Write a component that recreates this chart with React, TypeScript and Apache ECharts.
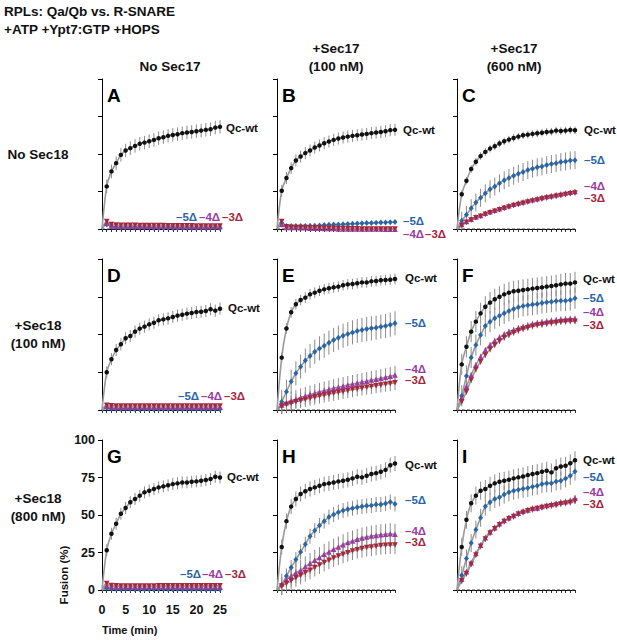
import React, { useEffect, useRef } from 'react';
import * as echarts from 'echarts';

const TIME = [1,2,3,4,5,6,7,8,9,10,11,12,13,14,15,16,17,18,19,20,21,22,23,24,25];
const Y_TICKS = [0, 25, 50, 75, 100];

// Panel A: No Sec17 / No Sec18
const wtA = [28.4,38.4,43.9,49.4,52.3,53.9,55.4,56.8,57.6,58.5,59.4,60.5,61.2,62.1,62.7,63.2,63.9,64.3,64.7,65.2,65.6,66.1,66.5,67.6,68.1];
const d5A = [3,1.5,1.2,1,1,1,1,1,1,1,0.6,0.6,0.6,0.8,0.8,0.6,0.6,0.6,0.6,0.6,0.6,0.6,0.6,0.8,0.6];
const d4A = [4,2.2,2,2,2,2,1.8,1.8,1.8,1.8,1.8,1.8,1.8,1.8,1.8,1.6,1.6,1.6,1.6,1.6,1.6,1.6,1.6,1.6,1.6];
const d3A = [5,3,2.6,2.5,2.5,2.5,2.5,2.4,2.4,2.4,2.3,2.3,2.3,2.2,2.2,2.2,2.1,2.1,2.1,2,2,2,2,2,2];
const errA = [4.5,1,1,1];

// Panel B: +Sec17 100 nM / No Sec18
const wtB = [25.5,34,40.6,45.7,48.3,50.6,52.3,54.3,55.7,57.2,58.3,59.4,60.3,61,61.6,62.1,62.5,63,63.4,63.9,64.3,64.7,65.2,65.9,66.1];
const d5B = [4,2,2,2,2,2,2.1,2.2,2.4,2.6,2.8,3,3,3.2,3.4,3.5,3.6,3.8,4,4,4.2,4.3,4.4,4.5,4.6];
const d4B = [3,1,1,1,0.8,0.8,0.5,0.5,0.5,0.3,0.3,0.3,0,0,0,0,0,0,0,0,0,0,-0.2,-0.2,-0.2];
const d3B = [5,1.5,1.2,1,1,1,0.8,0.8,0.8,0.5,0.5,0.5,0.3,0.3,0.3,0.2,0.2,0,0,0,0,0,0,0,0];
const errB = [4,0.8,0.8,0.8];

// Panel C: +Sec17 600 nM / No Sec18
const wtC = [23.2,32.2,40,44.8,48.6,51.4,53.6,55.2,57,58.5,59.6,60.7,61.6,62.5,62.9,63.4,63.8,64.2,64.7,64.9,65.6,65.3,65.6,66,65.8];
const d5C = [5.5,9.5,13.9,17.7,20.8,23.8,26.5,28.3,30.5,32.5,34,35.5,36.9,38,39.3,40.2,41.1,41.7,42.6,43.3,43.9,44.6,45,45.7,45.9];
const d4C = [3,5,6.5,8,9,10.5,11.5,12.5,13.5,14.5,15.5,16.5,17.3,18,18.8,19.5,20.2,21,21.6,22.2,22.8,23.4,24,24.5,25];
const d3C = [2.5,4.5,6,7.5,8.5,9.8,10.8,11.8,12.8,13.8,14.7,15.6,16.4,17.2,18,18.7,19.4,20,20.6,21.2,21.8,22.4,23,23.5,24];
const errC = [2.5,6,1.5,1.5];

// Panel D: No Sec17 / +Sec18 100 nM
const wtD = [25,33.6,39.7,43.5,47.5,49,51.9,53.9,55.2,56.7,57.8,59.4,60,60.7,61.6,62.5,63.1,63.8,64.2,64.9,65.1,65.6,66.7,65.8,67.1];
const d5D = [1.5,1,0.8,0.8,0.8,0.8,0.6,0.6,0.6,0.6,0.6,0.6,0.6,0.6,0.6,0.6,0.6,0.8,0.8,0.6,0.6,0.6,0.6,0.6,0.6];
const d4D = [2.5,2.2,2,2,2,2,2,2,2,2,2,2,2,2,2,2,2,2,2,2,2,2,2,2,2];
const d3D = [3.2,2.8,2.7,2.7,2.7,2.6,2.7,2.6,2.6,2.6,2.6,2.6,2.6,2.6,2.6,2.6,2.6,2.6,2.6,2.6,2.6,2.6,2.6,2.6,2.6];
const errD = [4,0.8,0.8,0.8];

// Panel E: +Sec17 100 nM / +Sec18 100 nM
const wtE = [34.7,54,64.7,70,72.8,74.4,76.6,77.7,79,79.9,80.6,81.2,81.7,82.6,83.2,83.4,83.9,84.5,84.5,85.2,85.4,85.9,86.1,86.3,86.8];
const d5E = [5.5,12.1,18.8,24.3,28.7,32.7,35.8,38.6,40.8,42.6,44.6,46.4,47.9,49.2,50.3,51.4,52.3,53,53.6,54.1,54.5,55.2,55.6,56.5,57.4];
const d4E = [3.3,4.8,6,7.2,8.3,9.3,10.2,11.1,12,12.8,13.6,14.4,15.1,15.8,16.5,17.2,17.9,18.5,19.1,19.8,20.4,21,21.7,22.4,23.2];
const d3E = [2.6,3.6,4.5,5.4,6.2,7,7.8,8.5,9.2,9.9,10.5,11.1,11.7,12.3,12.9,13.5,14.1,14.6,15.1,15.6,16.1,16.6,17.1,17.6,18.1];
const errE = [3.5,8,6,5];

// Panel F: +Sec17 600 nM / +Sec18 100 nM
const wtF = [30.2,41.9,51.9,58.5,64,68.4,71.1,73.3,75,76.6,77.7,78.6,79,79.5,79.9,80.4,80.8,81.2,81.7,82.1,82.6,83.2,83.7,83.7,84.5];
const d5F = [9.5,22.5,34.7,43,49.7,55.6,58.5,60.7,62.5,64,65.6,66.9,68,68.9,69.3,69.8,70.2,70.9,71.3,71.7,72.2,72.4,72.4,72.8,74];
const d4F = [8.2,15.5,23.2,29.8,35.3,39.7,43,45.9,48.1,50.1,51.9,53,54.3,55.2,56.1,57,57.6,58.3,58.7,59.2,59.6,60,60.3,60.5,60.5];
const d3F = [5.5,12.1,19.9,26.9,32,36.4,40.2,43,45.7,47.9,49.7,51.2,52.5,53.6,54.5,55.4,56.1,56.5,57,57.4,57.8,58.3,58.5,58.7,58.7];
const errF = [7,7,2,2];

// Panel G: No Sec17 / +Sec18 800 nM
const wtG = [26.5,37.5,44.2,50.8,54.7,58.5,60.7,62.9,65.1,66.2,67.3,68.4,69.1,69.8,70.6,71.1,71.7,71.7,72.2,72.4,72.8,73.3,74,75.5,75];
const d5G = [1.2,0.8,0.6,0.6,0.6,0.6,0.5,0.5,0.5,0.5,0.5,0.5,0.5,0.5,0.5,0.5,0.5,0.5,0.5,0.5,0.5,0.5,0.5,0.5,0.5];
const d4G = [3,2.4,2.2,2.2,2.2,2.2,2.2,2.2,2.2,2.2,2.2,2.2,2.2,2.2,2.2,2.2,2.2,2.2,2.2,2.2,2.2,2.2,2.2,2.2,2.2];
const d3G = [4.4,3,2.8,2.7,2.6,2.6,2.6,2.6,2.6,2.6,2.6,2.8,2.8,2.8,2.8,2.8,2.8,2.8,2.8,2.8,2.8,2.8,2.8,2.8,2.8];
const errG = [4,0.8,0.8,0.8];

// Panel H: +Sec17 100 nM / +Sec18 800 nM
const wtH = [28.7,45.9,55.6,60.7,64,65.8,67.3,68.4,69.5,70.6,71.1,71.7,72.4,72.8,73.5,74.4,75.5,75.1,76.2,77.3,77.9,78.8,80.1,83.2,84.3];
const d5H = [3.3,9.3,15,20.3,25.4,30.5,35.8,39.7,43,45.9,48.6,50.3,51.9,53,53.9,54.5,55.2,55.6,56.1,56.3,57,57,57.6,58.7,57.4];
const d4H = [4,7,9.3,11.5,13.2,15.5,17.7,19.9,21.6,23.8,25.4,27.2,28.7,30.2,31.6,32.7,33.8,34.7,35.3,36,36.4,36.9,37.1,37.5,37.1];
const d3H = [2.6,4.4,6.2,8.2,9.7,11.5,13.2,15,16.6,18.3,19.9,21.4,22.7,23.8,24.9,26,26.9,27.6,28.3,28.7,29.1,29.6,29.8,30,30];
const errH = [5,5,7,6];

// Panel I: +Sec17 600 nM / +Sec18 800 nM
const wtI = [28.7,46.8,57.8,62.9,66.2,67.3,69.5,71.1,72.2,72.8,73.5,74.4,75.1,75.7,76.6,77.3,77.9,78.8,79.5,78.4,81.2,82.3,82.8,84.5,86.5];
const d5I = [9.9,21,31.3,40.2,48.1,55.6,58.5,60.7,61.8,63.6,65.1,66.2,66.9,67.5,68,68.9,69.5,70.6,71.1,71.1,72.4,72.8,74.4,76.2,79];
const d4I = [7.1,12.1,18.1,24.3,29.8,34.9,38.6,41.5,44.2,46.4,48.1,49.7,51.2,52.5,53.4,54.3,54.7,55.6,56.3,57,57.6,58.5,58.9,59.6,61.4];
const d3I = [6.2,11,17.2,23.4,29.1,34,38,40.8,43.5,45.7,47.5,49,50.6,51.7,52.8,53.6,54.3,55,55.6,56.1,56.7,57.4,57.8,58.3,59.2];
const errI = [6,6,2,2];

const SERIES_NAMES = ['Qc-wt', '–5Δ', '–4Δ', '–3Δ'];
const COLUMN_HEADERS = [['No Sec17'], ['+Sec17', '(100 nM)'], ['+Sec17', '(600 nM)']];
const ROW_HEADERS = [['No Sec18'], ['+Sec18', '(100 nM)'], ['+Sec18', '(800 nM)']];
const TITLE_LINES = ['RPLs: Qa/Qb vs. R-SNARE', '+ATP +Ypt7:GTP +HOPS'];

const COLORS = ['#111111', '#2a66a6', '#9b3b9f', '#a5283c'];
const SYMBOLS = ['circle', 'diamond', 'triangle', 'path://M0,0L10,0L5,9Z'];
const SYMBOL_SIZES: any[] = [4.5, [5, 6], 5.5, 5.5];

const COL_X = [100, 275, 455];
const ROW_TOP = [79, 259, 440];
const ROW_H = [150, 151, 150];
const PLOT_W = 118;

const PANELS = [
  { key: 'A', row: 0, col: 0, vals: [wtA, d5A, d4A, d3A], err: errA,
    labels: [[226, 128], [176, 217], [199, 217], [222, 217]] },
  { key: 'B', row: 0, col: 1, vals: [wtB, d5B, d4B, d3B], err: errB,
    labels: [[403, 130], [403, 221], [403, 234], [425, 234]] },
  { key: 'C', row: 0, col: 2, vals: [wtC, d5C, d4C, d3C], err: errC,
    labels: [[584, 130], [584, 160], [584, 186], [584, 198]] },
  { key: 'D', row: 1, col: 0, vals: [wtD, d5D, d4D, d3D], err: errD,
    labels: [[228, 308], [178, 396], [201, 396], [224, 396]] },
  { key: 'E', row: 1, col: 1, vals: [wtE, d5E, d4E, d3E], err: errE,
    labels: [[405, 278], [405, 323], [405, 369], [405, 380]] },
  { key: 'F', row: 1, col: 2, vals: [wtF, d5F, d4F, d3F], err: errF,
    labels: [[583, 279], [583, 298], [583, 312], [583, 325]] },
  { key: 'G', row: 2, col: 0, vals: [wtG, d5G, d4G, d3G], err: errG,
    labels: [[227, 477], [180, 574], [202, 574], [225, 574]] },
  { key: 'H', row: 2, col: 1, vals: [wtH, d5H, d4H, d3H], err: errH,
    labels: [[405, 465], [405, 500], [405, 531], [405, 542]] },
  { key: 'I', row: 2, col: 2, vals: [wtI, d5I, d4I, d3I], err: errI,
    labels: [[583, 460], [583, 477], [583, 492], [583, 504]] },
];

const FONT = '"Liberation Sans", Arial, Helvetica, sans-serif';

export default function App() {
  const ref = useRef<HTMLDivElement>(null);
  useEffect(() => {
    if (!ref.current) return;
    const chart = echarts.init(ref.current, null, { renderer: 'svg' });
    const grids: any[] = [];
    const xAxes: any[] = [];
    const yAxes: any[] = [];
    const series: any[] = [];
    const graphics: any[] = [];

    PANELS.forEach((p, i) => {
      const axisX = COL_X[p.col];
      const top = ROW_TOP[p.row];
      const height = ROW_H[p.row];
      const isG = p.key === 'G';
      grids.push({ left: axisX + 2, top, width: PLOT_W, height });
      xAxes.push({
        gridIndex: i, type: 'value', min: 0, max: 25, interval: 1, offset: 7,
        axisLine: { show: true, lineStyle: { color: '#000', width: 1 } },
        axisTick: { show: true, length: 3, lineStyle: { color: '#000', width: 0.8 } },
        splitLine: { show: false },
        axisLabel: {
          show: isG, margin: 6, fontFamily: FONT, fontWeight: 'bold', fontSize: 12.5, color: '#111',
          formatter: (v: number) => (v % 5 === 0 ? String(v) : ''),
        },
      });
      yAxes.push({
        gridIndex: i, type: 'value', min: Y_TICKS[0], max: Y_TICKS[Y_TICKS.length - 1], interval: 25, offset: 2,
        axisLine: { show: true, lineStyle: { color: '#000', width: 1 } },
        axisTick: { show: true, length: 4, lineStyle: { color: '#000', width: 1 } },
        splitLine: { show: false },
        axisLabel: { show: isG, margin: 5, fontFamily: FONT, fontWeight: 'bold', fontSize: 12.5, color: '#111' },
      });
      // dashed zero line
      series.push({
        type: 'line', xAxisIndex: i, yAxisIndex: i, data: [[0, 0], [25, 0]], symbol: 'none',
        lineStyle: { color: '#444', width: 1, type: [3, 2] }, z: 0, silent: true, clip: false,
      });
      p.vals.forEach((vals, s) => {
        const e = p.err[s];
        series.push({
          type: 'custom', xAxisIndex: i, yAxisIndex: i, z: 1, silent: true, clip: false,
          data: vals.map((v, k) => [TIME[k], v, e]),
          renderItem: (_params: any, api: any) => {
            const x = api.value(0), y = api.value(1), er = api.value(2);
            const p1 = api.coord([x, y - er]);
            const p2 = api.coord([x, y + er]);
            return {
              type: 'line',
              shape: { x1: p1[0], y1: p1[1], x2: p2[0], y2: p2[1] },
              style: { stroke: '#8c8c8c', lineWidth: 1 },
            };
          },
        });
      });
      p.vals.forEach((vals, s) => {
        series.push({
          type: 'line', name: SERIES_NAMES[s], xAxisIndex: i, yAxisIndex: i,
          data: [{ value: [0, 0], symbol: 'none' }, ...vals.map((v, k) => [TIME[k], v])],
          smooth: 0.3, clip: false, showSymbol: true, showAllSymbol: true,
          symbol: SYMBOLS[s], symbolSize: SYMBOL_SIZES[s],
          lineStyle: { color: '#9a9a9a', width: 1.6 },
          itemStyle: { color: COLORS[s], borderWidth: 0 },
          z: 3, silent: true,
        });
      });
      // panel letter
      graphics.push({
        type: 'text', x: axisX + 7, y: top + 16,
        style: { text: p.key, fill: '#000', font: `bold 19px ${FONT}`, textAlign: 'left', textVerticalAlign: 'middle' },
      });
      p.labels.forEach((pos, s) => {
        graphics.push({
          type: 'text', x: pos[0], y: pos[1],
          style: { text: SERIES_NAMES[s], fill: COLORS[s], font: `bold 11.5px ${FONT}`, textAlign: 'left', textVerticalAlign: 'middle' },
        });
      });
    });

    // Title
    TITLE_LINES.forEach((t, k) => {
      graphics.push({
        type: 'text', x: 4, y: 11 + k * 18,
        style: { text: t, fill: '#111', font: `bold 13.5px ${FONT}`, textAlign: 'left', textVerticalAlign: 'middle' },
      });
    });
    // Column headers
    const colCenters = [170, 336, 514];
    COLUMN_HEADERS.forEach((lines, c) => {
      lines.forEach((t, k) => {
        const y = lines.length === 1 ? 66 : 48 + k * 18;
        graphics.push({
          type: 'text', x: colCenters[c], y,
          style: { text: t, fill: '#111', font: `bold 13.5px ${FONT}`, textAlign: 'center', textVerticalAlign: 'middle' },
        });
      });
    });
    // Row headers
    const rowCenters = [154, 334, 507];
    ROW_HEADERS.forEach((lines, r) => {
      lines.forEach((t, k) => {
        const y = lines.length === 1 ? rowCenters[r] : rowCenters[r] - 9 + k * 18;
        graphics.push({
          type: 'text', x: 38, y,
          style: { text: t, fill: '#111', font: `bold 13.5px ${FONT}`, textAlign: 'center', textVerticalAlign: 'middle' },
        });
      });
    });
    // Axis names
    graphics.push({
      type: 'text', x: 64, y: 575, rotation: Math.PI / 2,
      style: { text: 'Fusion (%)', fill: '#111', font: `bold 11.5px ${FONT}`, textAlign: 'center', textVerticalAlign: 'middle' },
    });
    graphics.push({
      type: 'text', x: 102, y: 630,
      style: { text: 'Time (min)', fill: '#111', font: `bold 11px ${FONT}`, textAlign: 'left', textVerticalAlign: 'middle' },
    });

    chart.setOption({
      animation: false,
      backgroundColor: '#ffffff',
      grid: grids,
      xAxis: xAxes,
      yAxis: yAxes,
      series,
      graphic: graphics,
    });
    return () => chart.dispose();
  }, []);
  return <div ref={ref} style={{ position: 'absolute', left: 0, top: 0, width: 617, height: 640 }} />;
}
